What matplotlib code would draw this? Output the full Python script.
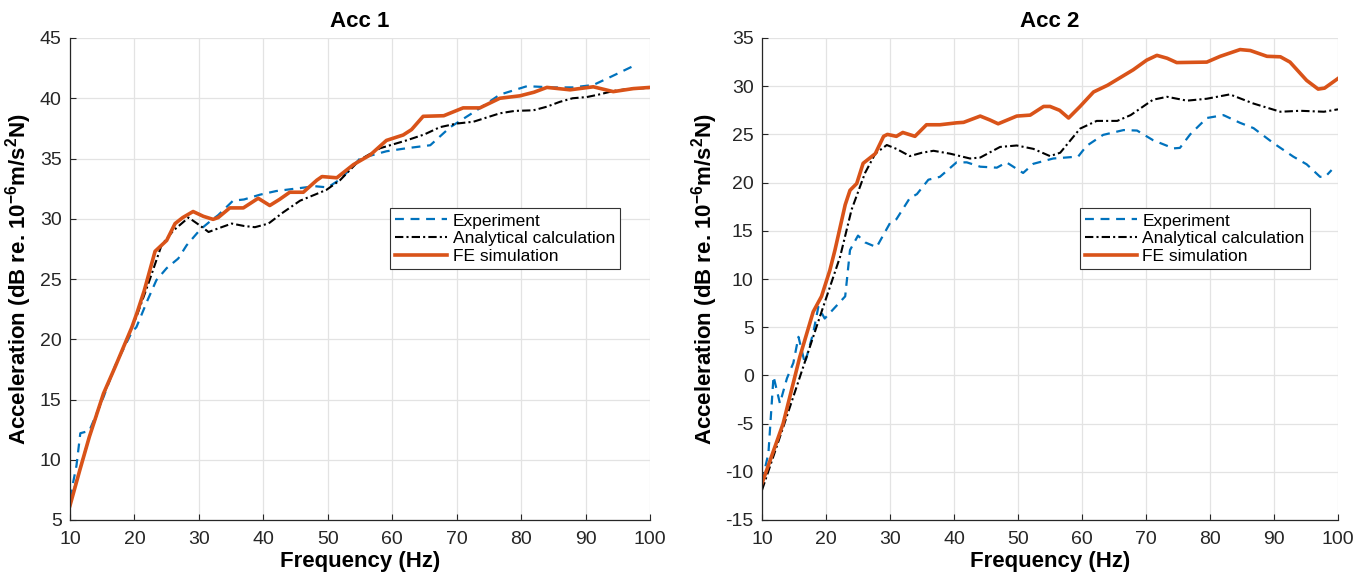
import matplotlib
matplotlib.use("Agg")
import matplotlib.pyplot as plt

plt.rcParams['font.family'] = ['Liberation Sans', 'DejaVu Sans']
plt.rcParams['mathtext.fontset'] = 'custom'
plt.rcParams['mathtext.rm'] = 'Liberation Sans'
plt.rcParams['mathtext.bf'] = 'Liberation Sans:bold'
plt.rcParams['axes.unicode_minus'] = False

# ---- Acc 1 ----
f_exp1 = [10, 11, 11.6, 13, 15.2, 17, 19.6, 20.3, 22, 23.4, 25, 26.8, 28.1, 30.2, 32, 33, 35.3, 37,
          39.5, 42, 45, 48, 50, 52, 55, 59.1, 62.2, 65.9, 69, 73.1, 76.7, 80.9, 85, 88, 91.2, 94, 97.9]
exp1 = [6.8, 9.5, 12.2, 12.4, 15.2, 17.8, 20.6, 21.0, 23.2, 24.9, 25.9, 26.7, 27.8, 29.1, 29.9, 30.3, 31.5, 31.6,
        32.0, 32.3, 32.5, 32.7, 32.6, 33.3, 35.0, 35.6, 35.85, 36.1, 37.6, 39.0, 40.3, 41.0, 40.9, 40.9, 41.1, 41.8, 42.8]

f_ana1 = [10, 13, 15.2, 17, 19.6, 20.4, 22.15, 24.2, 26, 28.4, 30, 31.5, 33, 35.1, 37, 38.7, 40.8, 43, 45.7,
          48, 49.8, 51.9, 55, 58.1, 62.2, 65, 67.4, 70, 72.6, 76.7, 79, 81.9, 84, 86, 88, 90.2, 92, 94.3, 97, 100]
ana1 = [6.4, 11.9, 15.4, 17.7, 21.0, 22.0, 24.6, 27.8, 29.0, 30.1, 29.5, 28.9, 29.2, 29.6, 29.4, 29.3, 29.6, 30.5, 31.5,
        32.0, 32.4, 33.2, 34.9, 35.85, 36.5, 37.0, 37.6, 37.9, 38.05, 38.75, 38.95, 39.0, 39.3, 39.7, 40.0, 40.1, 40.3,
        40.6, 40.8, 40.85]

f_fe1 = [10, 11.5, 13, 15.2, 17, 19.6, 20.4, 21.5, 23.2, 25, 26.3, 27.5, 29.1, 30.7, 32.2, 33, 34.8, 36.9, 39.2,
         41, 42.5, 44.1, 46.2, 48.3, 49.1, 51.4, 54, 56.6, 59.1, 61.7, 63, 64.8, 68, 71, 73.6, 76.7, 79.8, 82, 84,
         87.6, 91.2, 94.3, 97.4, 100]
fe1 = [6.2, 9.1, 11.9, 15.5, 17.7, 21.0, 22.2, 24.0, 27.3, 28.2, 29.6, 30.1, 30.6, 30.2, 29.95, 30.1, 30.9, 30.9, 31.7,
       31.1, 31.6, 32.2, 32.2, 33.2, 33.5, 33.4, 34.5, 35.3, 36.5, 36.95, 37.4, 38.5, 38.55, 39.2, 39.2, 40.0, 40.2,
       40.5, 40.9, 40.7, 40.95, 40.55, 40.8, 40.9]

# ---- Acc 2 ----
f_exp2 = [10, 11, 11.8, 12.8, 13.9, 14.9, 15.7, 16.7, 18, 18.8, 19.8, 23, 23.75, 25, 26.1, 27.9, 30, 31, 33.1,
          34.2, 36, 37.8, 40.4, 42, 44.1, 46.7, 48.2, 50.8, 52.4, 55.5, 59.4, 60.7, 63.3, 66.5, 68.6, 71.1, 74.3,
          75.3, 76.9, 79.5, 82.1, 84.7, 86.8, 89.9, 93, 95.1, 97.2, 98, 99]
exp2 = [-11.0, -8.1, -0.1, -2.9, -0.3, 1.3, 4.0, 1.25, 4.4, 7.1, 5.9, 8.2, 13.0, 14.5, 13.8, 13.3, 15.8, 16.2, 18.4,
        18.8, 20.3, 20.6, 22.1, 22.1, 21.65, 21.55, 22.1, 21.0, 21.95, 22.5, 22.7, 23.8, 24.95, 25.45, 25.4, 24.4,
        23.55, 23.6, 25.0, 26.7, 27.0, 26.2, 25.65, 24.1, 22.7, 21.9, 20.6, 20.6, 21.3]

f_ana2 = [10, 13.3, 16, 19, 22.2, 24, 26.1, 27.7, 29.5, 31, 33.1, 35, 36.8, 39.4, 42.5, 44.1, 47.2, 49.8, 52.4,
          55, 56.6, 59.7, 62.3, 65.5, 67.6, 71.1, 73.3, 76.4, 79.5, 83.1, 86.8, 91, 94.1, 97.8, 100]
ana2 = [-11.9, -5.4, 0.0, 6.0, 12.3, 17.2, 21.0, 23.0, 23.9, 23.5, 22.75, 23.1, 23.3, 23.0, 22.5, 22.6, 23.7, 23.85,
        23.5, 22.75, 23.1, 25.6, 26.4, 26.4, 27.0, 28.6, 28.9, 28.5, 28.7, 29.15, 28.2, 27.35, 27.45, 27.35, 27.6]

f_fe2 = [10, 13.3, 15.9, 18, 19.3, 20.6, 21.4, 23, 23.75, 24.8, 25.8, 27.7, 29, 29.6, 31, 32, 33.9, 35.7, 37.8,
         40.4, 41.5, 44.1, 45.6, 46.9, 49.8, 51.9, 54, 55, 56.5, 57.9, 59.7, 61.8, 64, 68, 70.1, 71.7, 73.3, 74.8,
         79.5, 81.6, 84.7, 86.3, 88.9, 91, 92.5, 95.1, 96.9, 97.9, 100]
fe2 = [-11.2, -5.0, 1.9, 6.6, 8.2, 10.9, 13.0, 17.7, 19.2, 19.9, 22.0, 23.0, 24.8, 25.0, 24.8, 25.2, 24.8, 26.0, 26.0,
       26.2, 26.25, 26.9, 26.5, 26.1, 26.9, 27.0, 27.9, 27.9, 27.5, 26.7, 27.9, 29.4, 30.1, 31.7, 32.7, 33.2, 32.9,
       32.45, 32.5, 33.1, 33.8, 33.7, 33.1, 33.05, 32.5, 30.6, 29.7, 29.8, 30.8]

titles = ['Acc 1', 'Acc 2']
ylims = [(5, 45), (-15, 35)]
series = [(f_exp1, exp1, f_ana1, ana1, f_fe1, fe1), (f_exp2, exp2, f_ana2, ana2, f_fe2, fe2)]

fig = plt.figure(figsize=(13.7, 5.79), dpi=100)
axes = [fig.add_axes([70 / 1370, 59 / 579, 580 / 1370, 482 / 579]),
        fig.add_axes([762 / 1370, 59 / 579, 576 / 1370, 482 / 579])]

for ax, title, ylim, (fe_x, fe_y, fa_x, fa_y, ff_x, ff_y) in zip(axes, titles, ylims, series):
    ax.plot(fe_x, fe_y, '--', color='#0072BD', lw=1.6, dashes=(4, 3), label='Experiment')
    ax.plot(fa_x, fa_y, '-.', color='black', lw=1.5, dashes=(4, 1.5, 1, 1.5), label='Analytical calculation')
    ax.plot(ff_x, ff_y, '-', color='#D95319', lw=2.6, label='FE simulation')
    ax.set_xlim(10, 100)
    ax.set_ylim(*ylim)
    ax.set_xticks(range(10, 101, 10))
    ax.set_yticks(range(ylim[0], ylim[1] + 1, 5))
    ax.grid(True, color='#e3e3e3', lw=0.9)
    ax.set_axisbelow(True)
    for s in ['top', 'right']:
        ax.spines[s].set_visible(False)
    for s in ['left', 'bottom']:
        ax.spines[s].set_color('#262626')
        ax.spines[s].set_linewidth(0.9)
    ax.tick_params(direction='in', length=4, labelsize=14, colors='#262626')
    ax.tick_params(axis='x', pad=8)
    ax.tick_params(axis='y', pad=6)
    ax.set_title(title, fontsize=16, fontweight='bold', pad=8)
    ax.set_xlabel('Frequency (Hz)', fontsize=16, fontweight='bold', labelpad=2)
    ax.set_ylabel(r'Acceleration (dB re. 10$^{\mathbf{-6}}$m/s$^{\mathbf{2}}$N)', fontsize=16, fontweight='bold',
                  labelpad=4)
    leg = ax.legend(loc='upper left', bbox_to_anchor=(0.552, 0.647), fontsize=12.5, handlelength=3,
                    fancybox=False, framealpha=1, edgecolor='#333333', borderpad=0.3, labelspacing=0.15,
                    handletextpad=0.3, borderaxespad=0)
    leg.get_frame().set_linewidth(0.8)

fig.savefig('out.png', dpi=100)
